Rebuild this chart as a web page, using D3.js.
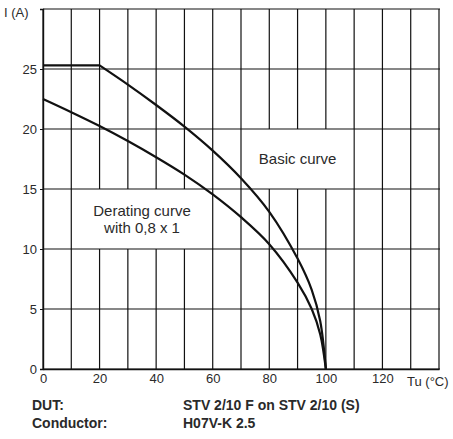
<!DOCTYPE html>
<html>
<head>
<meta charset="utf-8">
<script src="https://cdn.jsdelivr.net/npm/d3@7"></script>
<style>
  html, body { margin: 0; padding: 0; background: #fff; }
  svg text { font-family: "Liberation Sans", Arial, sans-serif; fill: #2a2a2a; }
</style>
</head>
<body>
<svg id="chart" width="453" height="439"></svg>
<script>
// Ambient temperature (°C) vs. permissible current (A)
const basicTemp    = [0, 20, 30, 40, 50, 60, 70, 80, 90, 95, 98, 100];
const basicCurrent = [25.3, 25.3, 23.7, 22.0, 20.2, 18.2, 15.9, 13.1, 9.2, 6.6, 4.0, 0];

const deratingTemp    = [0, 10, 20, 30, 40, 50, 60, 70, 80, 90, 95, 98, 100];
const deratingCurrent = [22.5, 21.4, 20.25, 19.0, 17.65, 16.2, 14.55, 12.65, 10.4, 7.2, 5.0, 2.9, 0];

const xTicks = [0, 20, 40, 60, 80, 100, 120];
const xGrid  = [0, 10, 20, 30, 40, 50, 60, 70, 80, 90, 100, 110, 120, 130, 140];
const yTicks = [0, 5, 10, 15, 20, 25];
const yGrid  = [0, 5, 10, 15, 20, 25, 30];

const xLabel = "Tu (°C)";
const yLabel = "I (A)";
const basicLabel = ["Basic curve"];
const deratingLabel = ["Derating curve", "with 0,8 x 1"];
const footerKeys = ["DUT:", "Conductor:"];
const footerVals = ["STV 2/10 F on STV 2/10 (S)", "H07V-K 2.5"];

const svg = d3.select("#chart");
const x = d3.scaleLinear().domain([0, 140]).range([43, 439]);
const y = d3.scaleLinear().domain([0, 30]).range([369, 9]);

const ink = "#111";

// vertical grid
svg.append("g").selectAll("line").data(xGrid).join("line")
  .attr("x1", d => x(d)).attr("x2", d => x(d))
  .attr("y1", y(30)).attr("y2", y(0))
  .attr("stroke", ink).attr("stroke-width", 1.2);

// label panels hide the grid behind the text
const panels = [
  { x0: 70, x1: 110, y0: 15, y1: 20 },
  { x0: 10, x1: 60,  y0: 10, y1: 15 }
];
svg.append("g").selectAll("rect").data(panels).join("rect")
  .attr("x", d => x(d.x0) + 1).attr("width", d => x(d.x1) - x(d.x0) - 2)
  .attr("y", d => y(d.y1)).attr("height", d => y(d.y0) - y(d.y1))
  .attr("fill", "#fff");

// horizontal grid
svg.append("g").selectAll("line").data(yGrid).join("line")
  .attr("x1", x(0)).attr("x2", x(140) + 1)
  .attr("y1", d => y(d)).attr("y2", d => y(d))
  .attr("stroke", ink).attr("stroke-width", 1.2);

// y axis ticks and labels
const yAxis = d3.axisLeft(y).tickValues(yTicks).tickSize(3).tickPadding(3);
const gy = svg.append("g").attr("transform", `translate(${x(0)},0)`).call(yAxis);
gy.select(".domain").attr("stroke", ink).attr("stroke-width", 1.4);
gy.selectAll(".tick line").attr("stroke", ink);
gy.selectAll(".tick text").style("font-size", "13px").attr("fill", "#2a2a2a")
  .style("font-family", "'Liberation Sans', Arial, sans-serif");

// x axis ticks and labels
const xAxis = d3.axisBottom(x).tickValues(xTicks).tickSize(0).tickPadding(5);
const gx = svg.append("g").attr("transform", `translate(0,${y(0)})`).call(xAxis);
gx.select(".domain").attr("stroke", ink).attr("stroke-width", 1.4);
gx.selectAll(".tick text").style("font-size", "13px").attr("fill", "#2a2a2a")
  .style("font-family", "'Liberation Sans', Arial, sans-serif");

svg.append("text").attr("x", 407).attr("y", 386)
  .style("font-size", "13px").text(xLabel);
svg.append("text").attr("x", 4).attr("y", 17)
  .style("font-size", "13px").text(yLabel);

// curves: the basic curve has a flat section, then a smooth fall-off from its knee
const line = d3.line().x(d => x(d[0])).y(d => y(d[1])).curve(d3.curveCatmullRom.alpha(0.5));
const flatLine = d3.line().x(d => x(d[0])).y(d => y(d[1]));
const basic = basicTemp.map((t, i) => [t, basicCurrent[i]]);
const knee = basicCurrent.findIndex(v => v < basicCurrent[0]) - 1;
const derating = deratingTemp.map((t, i) => [t, deratingCurrent[i]]);

const curveStyle = sel => sel.attr("fill", "none").attr("stroke", ink)
  .attr("stroke-width", 2.2).attr("stroke-linejoin", "miter");
svg.append("path").datum(basic.slice(0, knee + 1)).attr("d", flatLine).call(curveStyle);
svg.append("path").datum(basic.slice(knee)).attr("d", line).call(curveStyle);
svg.append("path").datum(derating).attr("d", line).call(curveStyle);

// curve labels
svg.append("g").selectAll("text").data(basicLabel).join("text")
  .attr("x", x(90)).attr("y", (d, i) => y(17.5) + 5 + i * 15)
  .attr("text-anchor", "middle").style("font-size", "15px").text(d => d);
svg.append("g").selectAll("text").data(deratingLabel).join("text")
  .attr("x", x(35)).attr("y", (d, i) => y(12.5) - 3 + i * 17)
  .attr("text-anchor", "middle").style("font-size", "15px").text(d => d);

// footer
svg.append("g").selectAll("text").data(footerKeys).join("text")
  .attr("x", 32).attr("y", (d, i) => 410 + i * 18)
  .style("font-size", "14px").style("font-weight", "bold").attr("fill", "#111").text(d => d);
svg.append("g").selectAll("text").data(footerVals).join("text")
  .attr("x", 183).attr("y", (d, i) => 410 + i * 18)
  .style("font-size", "14px").style("font-weight", "bold").attr("fill", "#111").text(d => d);
</script>
</body>
</html>
